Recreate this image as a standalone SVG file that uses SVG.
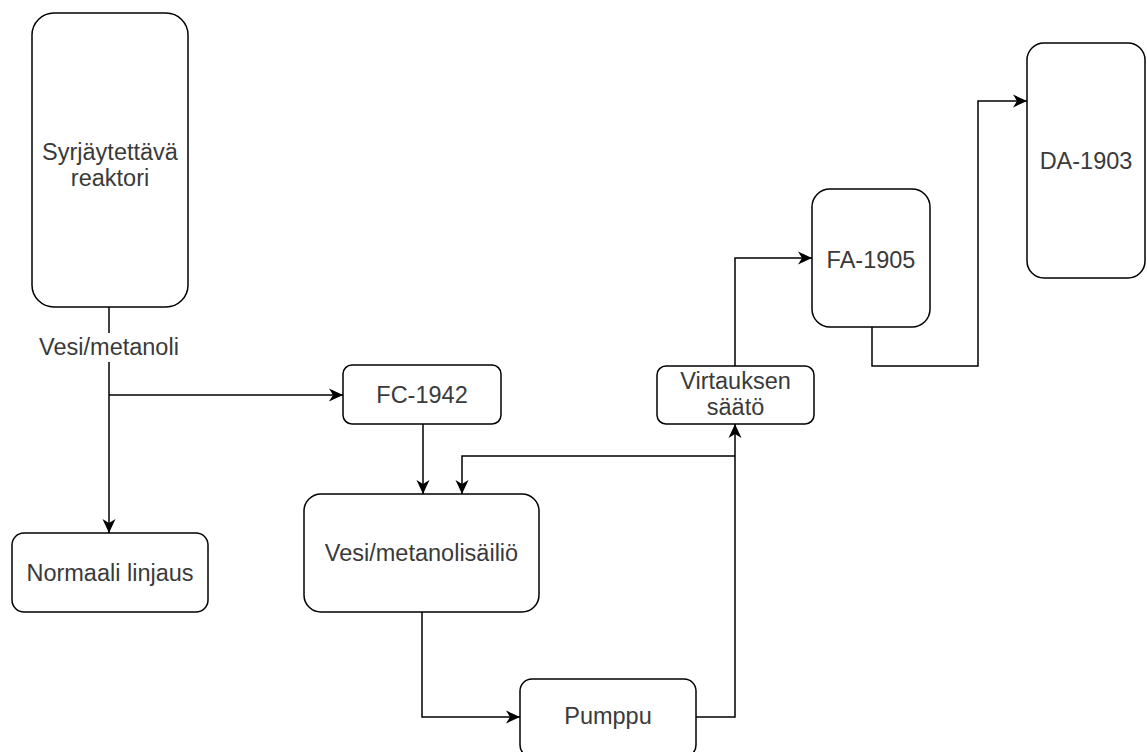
<svg xmlns="http://www.w3.org/2000/svg" width="1147" height="752" viewBox="0 0 1147 752">
<style>
.box{fill:#fff;stroke:#000;stroke-width:1.5}
.lbl{font-family:"Liberation Sans",Arial,sans-serif;font-size:23.5px;fill:#3a3a3a;text-anchor:middle;dominant-baseline:central}
.edge{fill:none;stroke:#000;stroke-width:1.5}
</style>
<defs>
<marker id="arr" markerUnits="userSpaceOnUse" markerWidth="16" markerHeight="14" refX="14" refY="7" orient="auto">
<path d="M0,0.5 L14,7 L0,13.5 L4,7 Z" fill="#000"/>
</marker>
</defs>
<rect width="1147" height="752" fill="#fff"/>
<g id="connectors">
<path class="edge" d="M109,307 V533" marker-end="url(#arr)"/>
<path class="edge" d="M109,395 H343" marker-end="url(#arr)"/>
<path class="edge" d="M423,424 V494" marker-end="url(#arr)"/>
<path class="edge" d="M422,612 V717 H520" marker-end="url(#arr)"/>
<path class="edge" d="M696,717 H735 V424" marker-end="url(#arr)"/>
<path class="edge" d="M735,456 H462 V494" marker-end="url(#arr)"/>
<path class="edge" d="M735,366 V258 H812" marker-end="url(#arr)"/>
<path class="edge" d="M872,327 V366 H978 V101 H1027" marker-end="url(#arr)"/>
<rect x="34" y="333" width="150" height="29" fill="#fff"/>
<text class="lbl" x="109" y="347">Vesi/metanoli</text>
</g>
<g id="reactor">
<rect class="box" x="32" y="13" width="156" height="294" rx="22"/>
<text class="lbl" x="110" y="152">Syrjäytettävä</text>
<text class="lbl" x="110" y="178">reaktori</text>
</g>
<g id="normaali">
<rect class="box" x="12" y="533" width="196" height="79" rx="12"/>
<text class="lbl" x="110" y="573">Normaali linjaus</text>
</g>
<g id="fc1942">
<rect class="box" x="343" y="365" width="158" height="59" rx="9"/>
<text class="lbl" x="422" y="395">FC-1942</text>
</g>
<g id="tank">
<rect class="box" x="304" y="494" width="235" height="118" rx="17"/>
<text class="lbl" x="421.5" y="553">Vesi/metanolisäiliö</text>
</g>
<g id="pumppu">
<rect class="box" x="520" y="679" width="176" height="78" rx="12"/>
<text class="lbl" x="608" y="716">Pumppu</text>
</g>
<g id="virtaus">
<rect class="box" x="657" y="366" width="157" height="58" rx="9"/>
<text class="lbl" x="735.5" y="381">Virtauksen</text>
<text class="lbl" x="735.5" y="407">säätö</text>
</g>
<g id="fa1905">
<rect class="box" x="812" y="189" width="118" height="138" rx="18"/>
<text class="lbl" x="871" y="260">FA-1905</text>
</g>
<g id="da1903">
<rect class="box" x="1027" y="43" width="118" height="235" rx="17"/>
<text class="lbl" x="1086" y="161">DA-1903</text>
</g>
</svg>
